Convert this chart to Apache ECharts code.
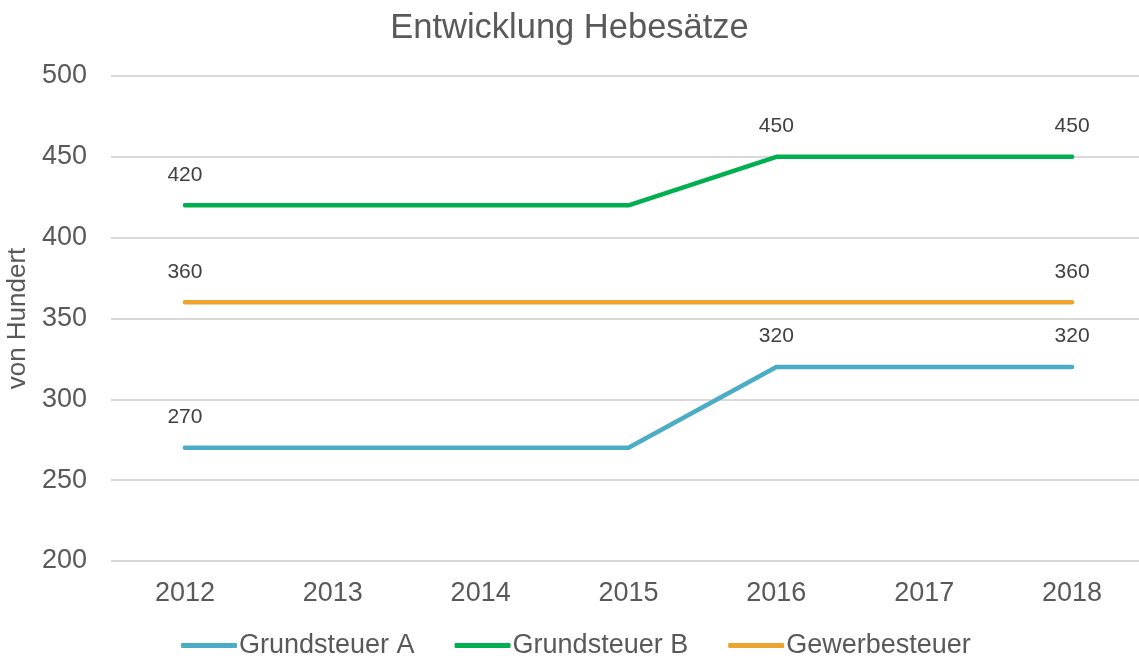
<!DOCTYPE html>
<html>
<head>
	<meta charset="UTF-8">
	<title>Entwicklung Hebesätze</title>
	<script src="https://cdn.jsdelivr.net/npm/echarts@6/dist/echarts.min.js"></script>
	<style>
		body { margin: 0; background: #fff; }
		#chart { width: 1139px; height: 660px; }
	</style>
</head>
<body>
	<div id="chart"></div>
	<script>
		// Daten
		var jahre = ['2012', '2013', '2014', '2015', '2016', '2017', '2018'];
		var grundsteuerA = [270, 270, 270, 270, 320, 320, 320];
		var grundsteuerB = [420, 420, 420, 420, 450, 450, 450];
		var gewerbesteuer = [360, 360, 360, 360, 360, 360, 360];
		// welche Punkte beschriftet sind
		var labelA = [0, 4, 6];
		var labelB = [0, 4, 6];
		var labelG = [0, 6];

		var txt = '#595959';
		var font = 'Liberation Sans';

		function punkte(werte, mitLabel) {
			return werte.map(function (v, i) {
				return { value: v, label: { show: mitLabel.indexOf(i) >= 0 } };
			});
		}

		function serie(name, werte, mitLabel, farbe) {
			return {
				name: name,
				type: 'line',
				data: punkte(werte, mitLabel),
				symbol: 'circle',
				symbolSize: 0,
				showSymbol: true,
				lineStyle: { width: 4.5, color: farbe, cap: 'round' },
				itemStyle: { color: farbe },
				label: {
					position: 'top', distance: 20, color: '#404040',
					fontFamily: font, fontSize: 21
				},
				animation: false
			};
		}

		var chart = echarts.init(document.getElementById('chart'), null, { renderer: 'canvas' });
		chart.setOption({
			backgroundColor: '#fff',
			title: {
				text: 'Entwicklung Hebesätze', left: 'center', top: 6,
				textStyle: { color: txt, fontFamily: font, fontSize: 34.5, fontWeight: 'normal' }
			},
			legend: {
				bottom: -4, left: 176, itemWidth: 56, itemHeight: 5, itemGap: 40,
				icon: 'roundRect',
				textStyle: { color: txt, fontFamily: font, fontSize: 27, padding: [0, 0, 0, -3] },
				data: ['Grundsteuer A', 'Grundsteuer B', 'Gewerbesteuer']
			},
			grid: { left: 111, right: -7, top: 76, bottom: 99, containLabel: false, outerBoundsMode: 'none' },
			xAxis: {
				type: 'category', data: jahre, boundaryGap: true,
				axisLine: { show: false }, axisTick: { show: false },
				axisLabel: { color: txt, fontFamily: font, fontSize: 27, margin: 19 }
			},
			yAxis: {
				type: 'value', min: 200, max: 500, interval: 50,
				name: 'von Hundert', nameLocation: 'middle', nameGap: 70,
				nameTextStyle: { color: txt, fontFamily: font, fontSize: 26 },
				axisLabel: { color: txt, fontFamily: font, fontSize: 27, margin: 24 },
				splitLine: { lineStyle: { color: '#d9d9d9', width: 2 } }
			},
			series: [
				serie('Grundsteuer A', grundsteuerA, labelA, '#4bacc6'),
				serie('Grundsteuer B', grundsteuerB, labelB, '#00b050'),
				serie('Gewerbesteuer', gewerbesteuer, labelG, '#eda42e')
			]
		});
	</script>
</body>
</html>
